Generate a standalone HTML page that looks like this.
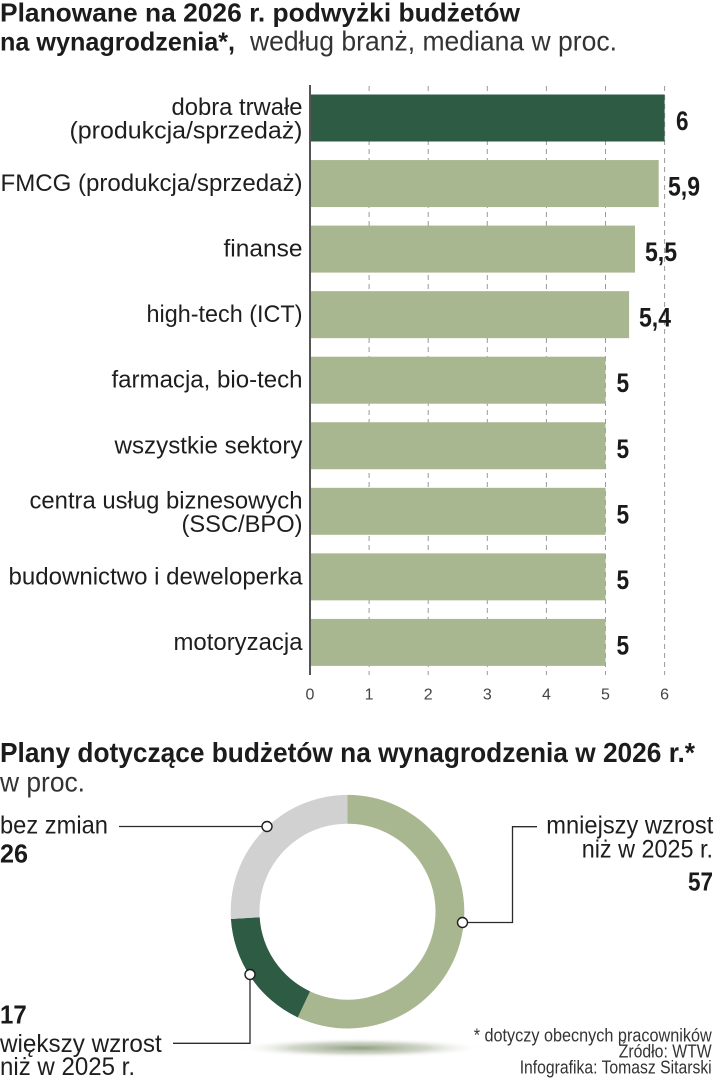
<!DOCTYPE html>
<html>
<head>
<meta charset="utf-8">
<style>
  html, body { margin: 0; padding: 0; background: #ffffff; }
  svg { display: block; }
  text { font-family: "Liberation Sans", sans-serif; }
</style>
</head>
<body>
<svg width="717" height="1080" viewBox="0 0 717 1080" xmlns="http://www.w3.org/2000/svg">
  <defs>
    <radialGradient id="shadow" cx="0.5" cy="0.5" r="0.5">
      <stop offset="0" stop-color="#7f8e6c" stop-opacity="0.85"/>
      <stop offset="0.55" stop-color="#9aa68a" stop-opacity="0.45"/>
      <stop offset="1" stop-color="#ffffff" stop-opacity="0"/>
    </radialGradient>
  </defs>
  <rect x="0" y="0" width="717" height="1080" fill="#ffffff"/>

  <!-- Title 1 -->
  <text x="0" y="21.5" font-size="26" font-weight="bold" fill="#1c1c1c" textLength="520" lengthAdjust="spacingAndGlyphs">Planowane na 2026 r. podwyżki budżetów</text>
  <text x="0" y="50.5" font-size="26" font-weight="bold" fill="#1c1c1c" textLength="235" lengthAdjust="spacingAndGlyphs">na wynagrodzenia*,</text>
  <text x="250" y="50.5" font-size="28" fill="#333333" textLength="367" lengthAdjust="spacingAndGlyphs">według branż, mediana w proc.</text>

  <!-- Gridlines -->
  <g stroke="#9a9a9a" stroke-width="1" stroke-dasharray="5 4">
    <line x1="369.1" y1="86" x2="369.1" y2="675"/>
    <line x1="428.2" y1="86" x2="428.2" y2="675"/>
    <line x1="487.3" y1="86" x2="487.3" y2="675"/>
    <line x1="546.4" y1="86" x2="546.4" y2="675"/>
    <line x1="605.5" y1="86" x2="605.5" y2="675"/>
    <line x1="664.6" y1="86" x2="664.6" y2="675"/>
  </g>

  <!-- Bars -->
  <rect x="311" y="94.5" width="353.6" height="47" fill="#2d5b44"/>
  <rect x="311" y="160.05" width="347.7" height="47" fill="#a9b791"/>
  <rect x="311" y="225.6" width="324" height="47" fill="#a9b791"/>
  <rect x="311" y="291.15" width="318.1" height="47" fill="#a9b791"/>
  <rect x="311" y="356.7" width="294.5" height="47" fill="#a9b791"/>
  <rect x="311" y="422.25" width="294.5" height="47" fill="#a9b791"/>
  <rect x="311" y="487.8" width="294.5" height="47" fill="#a9b791"/>
  <rect x="311" y="553.35" width="294.5" height="47" fill="#a9b791"/>
  <rect x="311" y="618.9" width="294.5" height="47" fill="#a9b791"/>

  <!-- Axis -->
  <line x1="310" y1="85" x2="310" y2="675" stroke="#2b2b2b" stroke-width="1.6"/>

  <!-- Category labels -->
  <g font-size="24" fill="#1e1e1e" text-anchor="end">
    <text x="302.5" y="115" textLength="131" lengthAdjust="spacingAndGlyphs">dobra trwałe</text>
    <text x="302.5" y="138.5" textLength="233" lengthAdjust="spacingAndGlyphs">(produkcja/sprzedaż)</text>
    <text x="302.5" y="191" textLength="302" lengthAdjust="spacingAndGlyphs">FMCG (produkcja/sprzedaż)</text>
    <text x="302.5" y="256.5" textLength="79" lengthAdjust="spacingAndGlyphs">finanse</text>
    <text x="302.5" y="322" textLength="156" lengthAdjust="spacingAndGlyphs">high-tech (ICT)</text>
    <text x="302.5" y="387.5" textLength="191" lengthAdjust="spacingAndGlyphs">farmacja, bio-tech</text>
    <text x="302.5" y="453.5" textLength="188" lengthAdjust="spacingAndGlyphs">wszystkie sektory</text>
    <text x="302.5" y="508.5" textLength="273" lengthAdjust="spacingAndGlyphs">centra usług biznesowych</text>
    <text x="302.5" y="532" textLength="121" lengthAdjust="spacingAndGlyphs">(SSC/BPO)</text>
    <text x="302.5" y="584.5" textLength="294" lengthAdjust="spacingAndGlyphs">budownictwo i deweloperka</text>
    <text x="302.5" y="650" textLength="129" lengthAdjust="spacingAndGlyphs">motoryzacja</text>
  </g>

  <!-- Value labels -->
  <g font-size="27" font-weight="bold" fill="#1a1a1a">
    <text x="676" y="130" textLength="12.5" lengthAdjust="spacingAndGlyphs">6</text>
    <text x="668" y="195.5" textLength="32" lengthAdjust="spacingAndGlyphs">5,9</text>
    <text x="645" y="261" textLength="32" lengthAdjust="spacingAndGlyphs">5,5</text>
    <text x="639" y="326.7" textLength="32" lengthAdjust="spacingAndGlyphs">5,4</text>
    <text x="616.5" y="392.2" textLength="12.6" lengthAdjust="spacingAndGlyphs">5</text>
    <text x="616.5" y="457.8" textLength="12.6" lengthAdjust="spacingAndGlyphs">5</text>
    <text x="616.5" y="523.3" textLength="12.6" lengthAdjust="spacingAndGlyphs">5</text>
    <text x="616.5" y="588.9" textLength="12.6" lengthAdjust="spacingAndGlyphs">5</text>
    <text x="616.5" y="654.5" textLength="12.6" lengthAdjust="spacingAndGlyphs">5</text>
  </g>

  <!-- Tick labels -->
  <g font-size="16" fill="#444444" text-anchor="middle">
    <text x="310" y="699.3">0</text>
    <text x="369.1" y="699.3">1</text>
    <text x="428.2" y="699.3">2</text>
    <text x="487.3" y="699.3">3</text>
    <text x="546.4" y="699.3">4</text>
    <text x="605.5" y="699.3">5</text>
    <text x="664.6" y="699.3">6</text>
  </g>

  <!-- Title 2 -->
  <text x="0" y="762" font-size="28" font-weight="bold" fill="#1c1c1c" textLength="695" lengthAdjust="spacingAndGlyphs">Plany dotyczące budżetów na wynagrodzenia w 2026 r.*</text>
  <text x="0" y="791.5" font-size="28" fill="#333333" textLength="85" lengthAdjust="spacingAndGlyphs">w proc.</text>

  <!-- Shadow -->
  <ellipse cx="360" cy="1048" rx="125" ry="10" fill="url(#shadow)"/>

  <!-- Donut -->
  <path d="M 347.5 794.9 A 116.8 116.8 0 1 1 297.77 1017.38 L 310.03 991.32 A 88 88 0 1 0 347.5 823.7 Z" fill="#a9b791"/>
  <path d="M 297.77 1017.38 A 116.8 116.8 0 0 1 230.93 919.03 L 259.67 917.23 A 88 88 0 0 0 310.03 991.32 Z" fill="#2d5b44"/>
  <path d="M 230.93 919.03 A 116.8 116.8 0 0 1 347.5 794.9 L 347.5 823.7 A 88 88 0 0 0 259.67 917.23 Z" fill="#d1d1d1"/>

  <!-- Leader lines -->
  <g stroke="#2b2b2b" stroke-width="1.3" fill="none">
    <path d="M 119 826.5 H 262"/>
    <path d="M 467.5 922.5 H 512.5 V 826.7 H 537"/>
    <path d="M 250 979.5 V 1043.3 H 173"/>
  </g>
  <g fill="#ffffff" stroke="#1e1e1e" stroke-width="1.4">
    <circle cx="267" cy="826.5" r="5"/>
    <circle cx="462.5" cy="922.5" r="5"/>
    <circle cx="250" cy="974.5" r="5"/>
  </g>

  <!-- Donut labels -->
  <g font-size="25" fill="#1e1e1e">
    <text x="0" y="833.3" textLength="108" lengthAdjust="spacingAndGlyphs">bez zmian</text>
    <text x="0" y="1052" textLength="161.7" lengthAdjust="spacingAndGlyphs">większy wzrost</text>
    <text x="0" y="1075" textLength="135" lengthAdjust="spacingAndGlyphs">niż w 2025 r.</text>
    <text x="713.3" y="833.3" text-anchor="end" textLength="167" lengthAdjust="spacingAndGlyphs">mniejszy wzrost</text>
    <text x="713" y="857.7" text-anchor="end" textLength="131.3" lengthAdjust="spacingAndGlyphs">niż w 2025 r.</text>
  </g>
  <g font-size="26" font-weight="bold" fill="#1a1a1a">
    <text x="0" y="862.7" textLength="28" lengthAdjust="spacingAndGlyphs">26</text>
    <text x="0" y="1023.3" textLength="26.7" lengthAdjust="spacingAndGlyphs">17</text>
    <text x="713" y="890.7" text-anchor="end" textLength="25" lengthAdjust="spacingAndGlyphs">57</text>
  </g>

  <!-- Footnotes -->
  <g font-size="18" fill="#333333" text-anchor="end">
    <text x="711.7" y="1041.5" textLength="238" lengthAdjust="spacingAndGlyphs">* dotyczy obecnych pracowników</text>
    <text x="711.7" y="1057.5" textLength="93" lengthAdjust="spacingAndGlyphs">Źródło: WTW</text>
    <text x="711.7" y="1073.5" textLength="192" lengthAdjust="spacingAndGlyphs">Infografika: Tomasz Sitarski</text>
  </g>
</svg>
</body>
</html>
